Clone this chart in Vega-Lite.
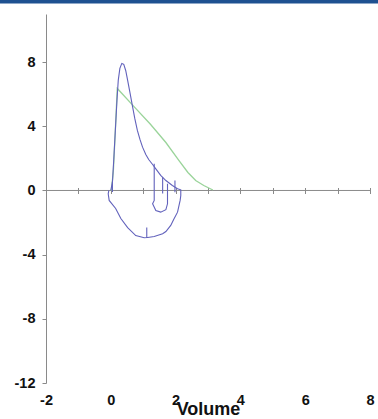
{
  "$schema": "https://vega.github.io/schema/vega-lite/v6.json",
  "width": 324,
  "height": 369,
  "autosize": {"type": "none"},
  "padding": {"left": 46, "top": 14, "right": 8, "bottom": 36},
  "background": "white",
  "config": {"view": {"stroke": null}, "axis": {"grid": false}},
  "datasets": {
    "blue": [
      {"seg": "a", "i": 1, "vol": 0.0, "flow": 0.0},
      {"seg": "a", "i": 2, "vol": 0.05, "flow": 0.5},
      {"seg": "a", "i": 3, "vol": 0.09, "flow": 1.87},
      {"seg": "a", "i": 4, "vol": 0.14, "flow": 3.74},
      {"seg": "a", "i": 5, "vol": 0.19, "flow": 5.61},
      {"seg": "a", "i": 6, "vol": 0.23, "flow": 6.86},
      {"seg": "a", "i": 7, "vol": 0.28, "flow": 7.61},
      {"seg": "a", "i": 8, "vol": 0.34, "flow": 7.92},
      {"seg": "a", "i": 9, "vol": 0.40, "flow": 7.86},
      {"seg": "a", "i": 10, "vol": 0.46, "flow": 7.48},
      {"seg": "a", "i": 11, "vol": 0.52, "flow": 6.86},
      {"seg": "a", "i": 12, "vol": 0.59, "flow": 6.11},
      {"seg": "a", "i": 13, "vol": 0.67, "flow": 5.24},
      {"seg": "a", "i": 14, "vol": 0.74, "flow": 4.49},
      {"seg": "a", "i": 15, "vol": 0.82, "flow": 3.74},
      {"seg": "a", "i": 16, "vol": 0.90, "flow": 3.18},
      {"seg": "a", "i": 17, "vol": 0.98, "flow": 2.70},
      {"seg": "a", "i": 18, "vol": 1.08, "flow": 2.24},
      {"seg": "a", "i": 19, "vol": 1.17, "flow": 1.93},
      {"seg": "a", "i": 20, "vol": 1.29, "flow": 1.62},
      {"seg": "a", "i": 21, "vol": 1.39, "flow": 1.35},
      {"seg": "a", "i": 22, "vol": 1.54, "flow": 0.94},
      {"seg": "a", "i": 23, "vol": 1.70, "flow": 0.62},
      {"seg": "a", "i": 24, "vol": 1.90, "flow": 0.31},
      {"seg": "a", "i": 25, "vol": 2.06, "flow": 0.11},
      {"seg": "a", "i": 26, "vol": 2.16, "flow": 0.04},
      {"seg": "a", "i": 27, "vol": 2.16, "flow": -0.31},
      {"seg": "a", "i": 28, "vol": 2.14, "flow": -0.62},
      {"seg": "a", "i": 29, "vol": 2.06, "flow": -1.35},
      {"seg": "a", "i": 30, "vol": 1.94, "flow": -1.81},
      {"seg": "a", "i": 31, "vol": 1.85, "flow": -2.18},
      {"seg": "a", "i": 32, "vol": 1.70, "flow": -2.56},
      {"seg": "a", "i": 33, "vol": 1.60, "flow": -2.70},
      {"seg": "a", "i": 34, "vol": 1.34, "flow": -2.87},
      {"seg": "a", "i": 35, "vol": 1.14, "flow": -2.93},
      {"seg": "a", "i": 36, "vol": 1.11, "flow": -2.93},
      {"seg": "a", "i": 37, "vol": 1.11, "flow": -2.31},
      {"seg": "a", "i": 38, "vol": 1.11, "flow": -2.93},
      {"seg": "a", "i": 39, "vol": 1.03, "flow": -2.95},
      {"seg": "a", "i": 40, "vol": 0.77, "flow": -2.81},
      {"seg": "a", "i": 41, "vol": 0.52, "flow": -2.31},
      {"seg": "a", "i": 42, "vol": 0.31, "flow": -1.75},
      {"seg": "a", "i": 43, "vol": 0.15, "flow": -1.12},
      {"seg": "a", "i": 44, "vol": -0.05, "flow": -0.62},
      {"seg": "a", "i": 45, "vol": -0.08, "flow": -0.21},
      {"seg": "a", "i": 46, "vol": -0.06, "flow": 0.0},
      {"seg": "b", "i": 1, "vol": 1.34, "flow": 1.66},
      {"seg": "b", "i": 2, "vol": 1.34, "flow": -0.62},
      {"seg": "b", "i": 3, "vol": 1.29, "flow": -0.83},
      {"seg": "b", "i": 4, "vol": 1.39, "flow": -1.25},
      {"seg": "b", "i": 5, "vol": 1.54, "flow": -1.35},
      {"seg": "b", "i": 6, "vol": 1.70, "flow": -1.20},
      {"seg": "b", "i": 7, "vol": 1.75, "flow": -0.83},
      {"seg": "b", "i": 8, "vol": 1.75, "flow": 0.42},
      {"seg": "c", "i": 1, "vol": 1.60, "flow": 0.83},
      {"seg": "c", "i": 2, "vol": 1.60, "flow": -0.19},
      {"seg": "d", "i": 1, "vol": 1.98, "flow": 0.62},
      {"seg": "d", "i": 2, "vol": 1.98, "flow": -0.11},
      {"seg": "e", "i": 1, "vol": 0.05, "flow": 0.55},
      {"seg": "e", "i": 2, "vol": 0.05, "flow": -0.1}
    ],
    "green": [
      {"i": 1, "vol": 0.02, "flow": 0.0},
      {"i": 2, "vol": 0.08, "flow": 1.25},
      {"i": 3, "vol": 0.14, "flow": 3.74},
      {"i": 4, "vol": 0.20, "flow": 6.36},
      {"i": 5, "vol": 0.71, "flow": 5.24},
      {"i": 6, "vol": 1.23, "flow": 4.11},
      {"i": 7, "vol": 1.70, "flow": 2.99},
      {"i": 8, "vol": 2.10, "flow": 1.87},
      {"i": 9, "vol": 2.38, "flow": 1.12},
      {"i": 10, "vol": 2.62, "flow": 0.62},
      {"i": 11, "vol": 2.87, "flow": 0.31},
      {"i": 12, "vol": 3.15, "flow": 0.03}
    ],
    "one": [{}]
  },
  "resolve": {"axis": {"x": "independent"}},
  "layer": [
    {
      "data": {"name": "one"},
      "mark": {"type": "rect", "clip": false, "color": "#1f5191"},
      "encoding": {
        "x": {"datum": -3.46, "type": "quantitative", "scale": {"domain": [-2, 8], "nice": false, "zero": false}, "axis": null},
        "x2": {"datum": 8.25},
        "y": {"datum": 11.65, "type": "quantitative", "scale": {"domain": [-12, 11], "nice": false, "zero": false}},
        "y2": {"datum": 11.873}
      }
    },
    {
      "data": {"name": "one"},
      "mark": {"type": "rule", "color": "#8a8a8a", "strokeWidth": 1},
      "encoding": {
        "y": {"datum": 0, "type": "quantitative"}
      }
    },
    {
      "data": {"name": "green"},
      "mark": {"type": "line", "color": "#9ad49a", "strokeWidth": 1.3, "clip": false},
      "encoding": {
        "x": {
          "field": "vol", "type": "quantitative",
          "axis": {
            "orient": "bottom", "offset": -195.5, "values": [-1, 0, 1, 2, 3, 4, 5, 6, 7, 8],
            "domain": false, "labels": false, "ticks": true, "tickSize": 6,
            "tickColor": "#8a8a8a", "title": null, "grid": false
          }
        },
        "y": {"field": "flow", "type": "quantitative"},
        "order": {"field": "i"}
      }
    },
    {
      "data": {"name": "blue"},
      "mark": {"type": "line", "color": "#6262bc", "strokeWidth": 1.1, "clip": false},
      "encoding": {
        "x": {
          "field": "vol", "type": "quantitative",
          "scale": {"domain": [-2, 8], "nice": false, "zero": false},
          "axis": {
            "orient": "bottom", "values": [-2, 0, 2, 4, 6, 8],
            "labelExpr": "toString(datum.value)",
            "domain": false, "ticks": false, "tickSize": 0, "labelFlush": false,
            "labelFont": "Liberation Sans", "labelFontWeight": "bold", "labelFontSize": 14.5,
            "labelColor": "#111111", "labelPadding": 10,
            "title": "Volume", "titleFont": "Liberation Sans", "titleFontWeight": "bold",
            "titleFontSize": 18, "titleColor": "#111111", "titlePadding": -6.5
          }
        },
        "y": {
          "field": "flow", "type": "quantitative",
          "scale": {"domain": [-12, 11], "nice": false, "zero": false},
          "axis": {
            "values": [-12, -10, -8, -6, -4, -2, 0, 2, 4, 6, 8, 10],
            "labelExpr": "datum.value % 4 === 0 ? toString(datum.value) : ''",
            "domainColor": "#8a8a8a", "tickColor": "#8a8a8a", "tickSize": 4,
            "labelFlush": false,
            "labelFont": "Liberation Sans", "labelFontWeight": "bold", "labelFontSize": 14.5,
            "labelColor": "#111111", "labelPadding": 7, "title": null
          }
        },
        "detail": {"field": "seg"},
        "order": {"field": "i"}
      }
    }
  ]
}
